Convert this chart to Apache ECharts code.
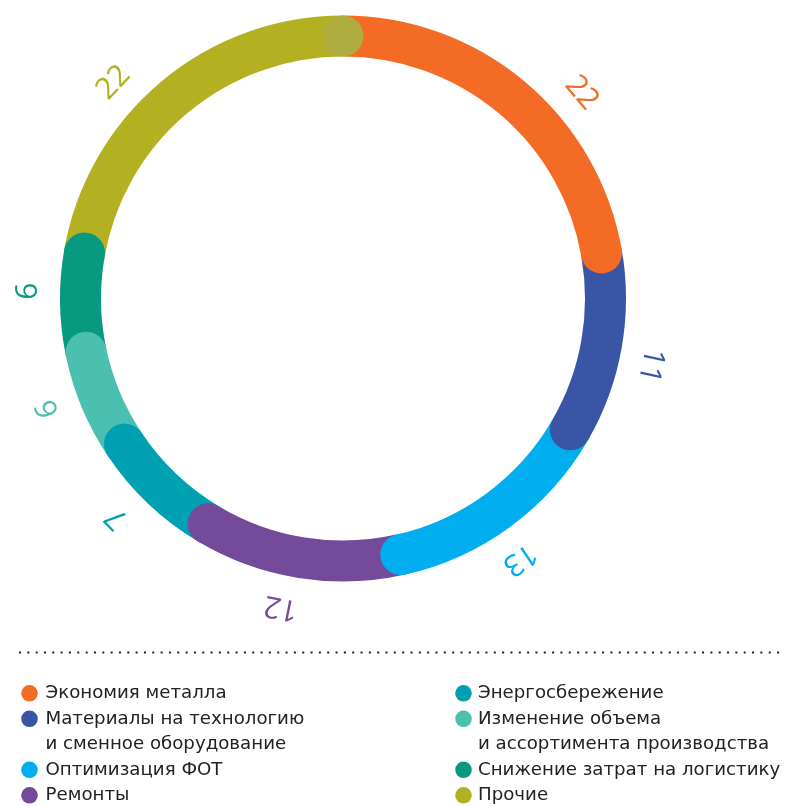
<!DOCTYPE html>
<html><head><meta charset="utf-8">
<script src="https://cdn.jsdelivr.net/npm/echarts@6/dist/echarts.min.js"></script>
<style>html,body{margin:0;padding:0;background:#fff}#c{width:785px;height:806px}</style>
</head><body><div id="c"></div>
<script>
// ---- data ----
const categories = ['Экономия металла','Материалы на технологию\nи сменное оборудование','Оптимизация ФОТ','Ремонты','Энергосбережение','Изменение объема\nи ассортимента производства','Снижение затрат на логистику','Прочие'];
const values = [22, 11, 13, 12, 7, 6, 6, 22];
// ---- styles / layout ----
const colors = ['#F36B24','#3B55A6','#00AEEF','#744A9A','#00A0B3','#4CC0B0','#079A80','#B3B121'];
const lastCapColor = '#AFAD3F';
const labelNudgeDeg = [7, 0, 0, 0, 0, 0, 0, -9];
const legendColumns = [[0,1,2,3],[4,5,6,7]];

const CX = 343, CY = 298.5, R = 262.5, W = 41, LR = 315;
const total = values.reduce((a,b)=>a+b,0);
const starts = []; let acc = 0; values.forEach(v => { starts.push(acc); acc += v; });
const toRad = deg => (deg - 90) * Math.PI / 180;
const capDeg = Math.asin(W/2/R) * 180 / Math.PI;

function renderItem(params, api){
  const i = params.dataIndex;
  const v = api.value(0);
  const a0 = starts[i]/total*360, a1 = (starts[i]+v)/total*360;
  const mid = (a0+a1)/2 + capDeg*0.5 + labelNudgeDeg[i];
  const lx = CX + LR*Math.cos(toRad(mid)), ly = CY + LR*Math.sin(toRad(mid));
  const last = i === values.length-1;
  return {type:'group', children:[
    {type:'arc', shape:{cx:CX, cy:CY, r:R, startAngle:toRad(a0), endAngle:toRad(a1), clockwise:true},
     style:{stroke:colors[i], lineWidth:W, fill:'none', lineCap:'butt'}, z2:1},
    {type:'circle', shape:{cx:CX+R*Math.cos(toRad(a1)), cy:CY+R*Math.sin(toRad(a1)), r:W/2},
     style:{fill: last ? lastCapColor : colors[i]}, z2:5},
    {type:'text', x:lx, y:ly, rotation:-mid*Math.PI/180,
     style:{text:String(v), fill:colors[i], font:'30px "Open Sans"', align:'center', verticalAlign:'middle'}, z2:6}
  ]};
}

const graphics = [{type:'line', shape:{x1:19, y1:652.5, x2:785, y2:652.5},
  style:{stroke:'#222', lineWidth:2, lineDash:[2, 6.33]}}];
const colX = [[29.5, 45.5], [463.5, 478]];
legendColumns.forEach((col, c) => {
  let row = 0;
  col.forEach(i => {
    const y = 693.3 + row*25.5;
    graphics.push({type:'circle', shape:{cx:colX[c][0], cy:y, r:8.3}, style:{fill:colors[i]}});
    graphics.push({type:'text', x:colX[c][1], y:y-12.75,
      style:{text:categories[i], font:'18.2px "DejaVu Sans"', fill:'#222', lineHeight:25.5, verticalAlign:'top'}});
    row += categories[i].split('\n').length;
  });
});

const chart = echarts.init(document.getElementById('c'), null, {renderer:'canvas'});
chart.setOption({
  animation:false,
  series:[{type:'custom', coordinateSystem:'none', renderItem, data: values.map((v,i)=>({name:categories[i], value:[v]}))}],
  graphic: graphics
});
</script></body></html>
